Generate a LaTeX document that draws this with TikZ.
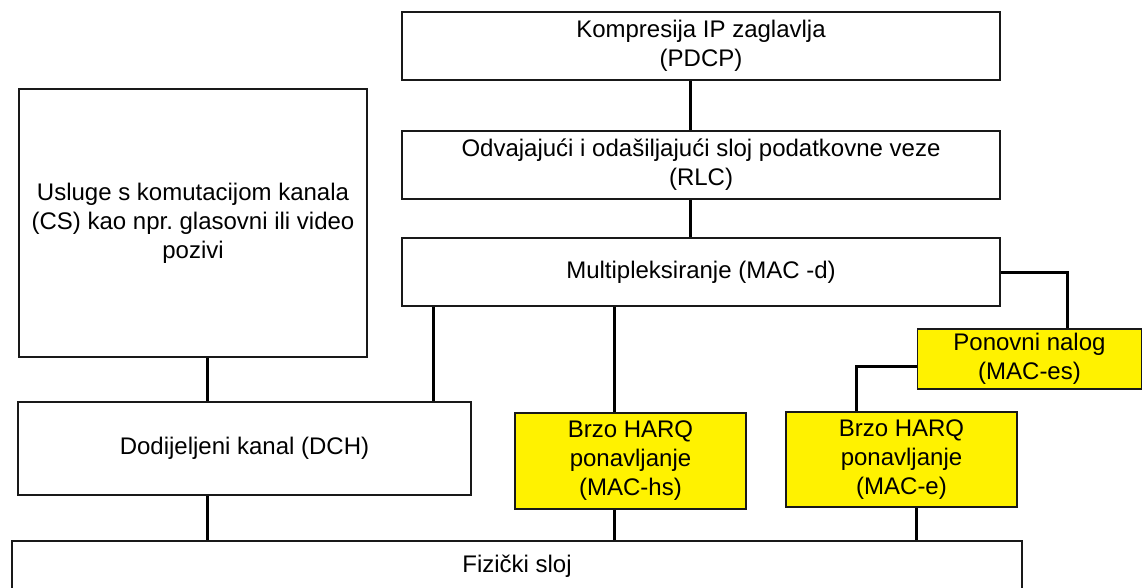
\documentclass[tikz,border=0pt]{standalone}
\usepackage{fontspec}
\setmainfont{Liberation Sans}
\frenchspacing
\begin{document}
\begin{tikzpicture}[x=1pt,y=-1pt,
  box/.style={draw=black!90, line width=1.6pt, fill=white, align=center, inner sep=0pt,
    font=\fontsize{24}{29}\selectfont},
  ybox/.style={box, fill=yellow},
  conn/.style={draw=black, line width=3pt}]
\useasboundingbox (0,0) rectangle (1143,588);
\clip (0,0) rectangle (1143,588);
\fill[white] (0,0) rectangle (1143,588);
% nodes
\node[box, minimum width=598, minimum height=68] (pdcp) at (701,46) {Kompresija IP zaglavlja\\(PDCP)};
\node[box, minimum width=598, minimum height=68] (rlc) at (701,165) {Odvajajući i odašiljajući sloj podatkovne veze\\(RLC)};
\node[box, minimum width=598, minimum height=68] (macd) at (701,272) {Multipleksiranje (MAC -d)};
\node[box, minimum width=348, minimum height=268] (usl) at (193,223) {Usluge s komutacijom kanala\\(CS) kao npr.\ glasovni ili video\\pozivi};
\node[box, minimum width=453, minimum height=93] (dch) at (244.5,448.5) {Dodijeljeni kanal (DCH)};
\node[ybox, minimum width=231, minimum height=96] (machs) at (630.5,461) {Brzo HARQ\\ponavljanje\\(MAC-hs)};
\node[ybox, minimum width=224, minimum height=60] (maces) at (1029.5,359) {Ponovni nalog\\(MAC-es)};
\node[ybox, minimum width=231, minimum height=95] (mace) at (901.5,459.5) {Brzo HARQ\\ponavljanje\\(MAC-e)};
\node[box, minimum width=1010, minimum height=51] (fiz) at (517,566.5) {Fizički sloj};
% helper coordinates
\coordinate (a) at (690,0);
\coordinate (b) at (433,0);
\coordinate (c) at (614,0);
\coordinate (d) at (1067,0);
\coordinate (e) at (856,366);
\coordinate (f) at (207,0);
\coordinate (g) at (916,0);
% connectors
\draw[conn] (a |- pdcp.south) -- (a |- rlc.north);
\draw[conn] (a |- rlc.south) -- (a |- macd.north);
\draw[conn] (b |- macd.south) -- (b |- dch.north);
\draw[conn] (c |- macd.south) -- (c |- machs.north);
\draw[conn] (macd.east) -| (d |- maces.north);
\draw[conn] (e -| maces.west) -- (e) -- (e |- mace.north);
\draw[conn] (f |- usl.south) -- (f |- dch.north);
\draw[conn] (f |- dch.south) -- (f |- fiz.north);
\draw[conn] (c |- machs.south) -- (c |- fiz.north);
\draw[conn] (g |- mace.south) -- (g |- fiz.north);
\end{tikzpicture}
\end{document}
